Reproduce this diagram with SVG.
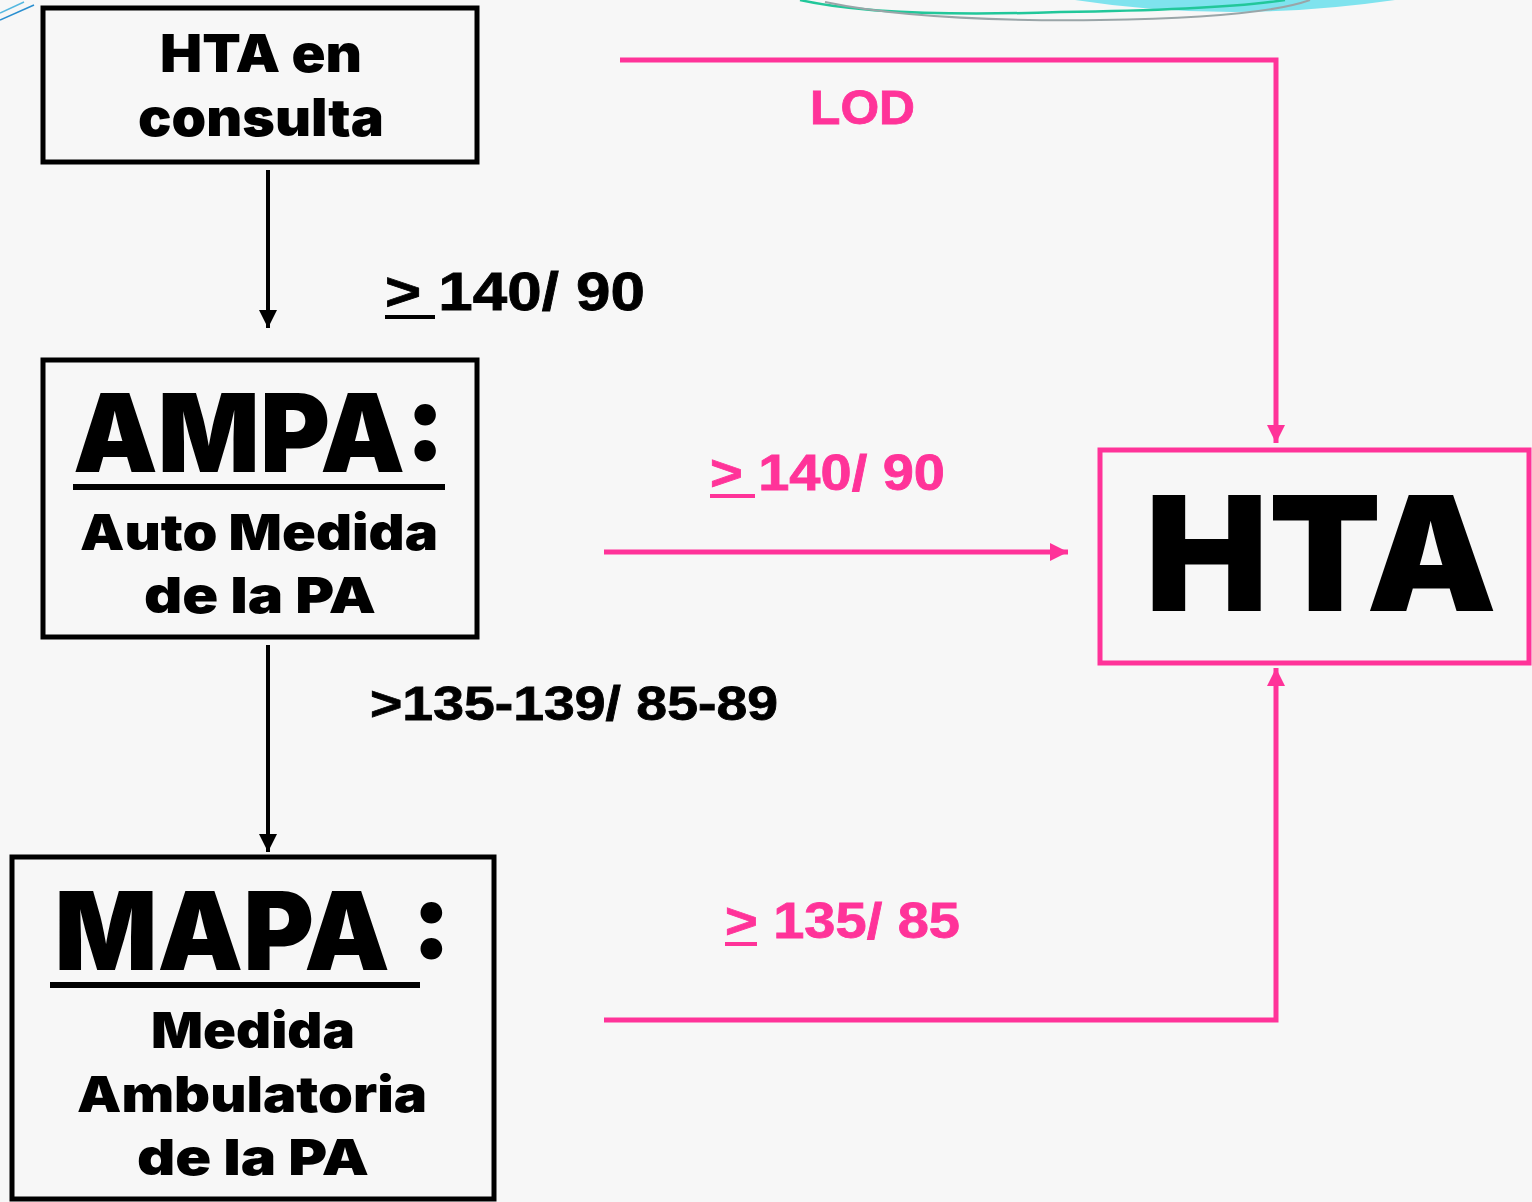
<svg xmlns="http://www.w3.org/2000/svg" width="1532" height="1202" viewBox="0 0 1532 1202">
<defs>
<style>
.bg{fill:#f7f7f7}
.box{fill:none;stroke:#000;stroke-width:5}
.pbox{fill:none;stroke:#ff3399;stroke-width:5}
.blk{font-family:Inter,"Liberation Sans",Arial,sans-serif;font-weight:900;fill:#000;text-anchor:middle}
.lbl{font-family:"Liberation Sans",Arial,sans-serif;font-weight:bold;stroke-width:0.8}
.k{fill:#000}
.p{fill:#ff3399}
text.k{stroke:#000}
text.p{stroke:#ff3399}
.cb{stroke:#000;stroke-width:4;fill:none}
.cp{stroke:#ff3399;stroke-width:5;fill:none}
</style>
<marker id="ab" viewBox="0 0 10 10" refX="10" refY="5" markerWidth="18" markerHeight="18" orient="auto" markerUnits="userSpaceOnUse">
<path d="M0,0 L10,5 L0,10 Z" fill="#000"/>
</marker>
<marker id="ap" viewBox="0 0 10 10" refX="10" refY="5" markerWidth="18" markerHeight="18" orient="auto" markerUnits="userSpaceOnUse">
<path d="M0,0 L10,5 L0,10 Z" fill="#ff3399"/>
</marker>
</defs>
<rect class="bg" x="0" y="0" width="1532" height="1202"/>
<g id="decor">
<path d="M1075,0 Q1230,24 1395,0 Z" fill="#7fe3ee"/>
<path d="M800,0 Q880,18 1060,12 Q1220,10 1285,0" fill="none" stroke="#22c79a" stroke-width="2.5"/>
<path d="M825,2 Q920,22 1100,20 Q1260,18 1310,0" fill="none" stroke="#9aa5a8" stroke-width="2"/>
<path d="M0,20 L34,5" stroke="#2a8fd0" stroke-width="1.5"/>
<path d="M0,13 L24,2" stroke="#55b8e0" stroke-width="1.5"/>
</g>
<g id="connectors">
<line class="cb" x1="268" y1="170" x2="268" y2="328" marker-end="url(#ab)"/>
<line class="cb" x1="268" y1="645" x2="268" y2="852" marker-end="url(#ab)"/>
<polyline class="cp" points="620,60 1276,60 1276,443" marker-end="url(#ap)"/>
<line class="cp" x1="604" y1="552" x2="1068" y2="552" marker-end="url(#ap)"/>
<polyline class="cp" points="604,1020 1276,1020 1276,668" marker-end="url(#ap)"/>
<text class="lbl k" x="385" y="310" font-size="54" textLength="260" lengthAdjust="spacingAndGlyphs">&gt; 140/ 90</text>
<rect class="k" x="385" y="315" width="50" height="4"/>
<text class="lbl k" x="370" y="720" font-size="48" textLength="408" lengthAdjust="spacingAndGlyphs">&gt;135-139/ 85-89</text>
<text class="lbl p" x="810" y="124" font-size="48" textLength="105" lengthAdjust="spacingAndGlyphs">LOD</text>
<text class="lbl p" x="710" y="490" font-size="50" textLength="235" lengthAdjust="spacingAndGlyphs">&gt; 140/ 90</text>
<rect class="p" x="710" y="494" width="45" height="4"/>
<text class="lbl p" x="725" y="938" font-size="50" textLength="235" lengthAdjust="spacingAndGlyphs">&gt; 135/ 85</text>
<rect class="p" x="725" y="942" width="32" height="4"/>
</g>
<g id="node-hta-consulta">
<rect class="box" x="43" y="8" width="434" height="154"/>
<text class="blk" x="261" y="72" font-size="52" textLength="202" lengthAdjust="spacingAndGlyphs">HTA en</text>
<text class="blk" x="261" y="136" font-size="52" textLength="246" lengthAdjust="spacingAndGlyphs">consulta</text>
</g>
<g id="node-ampa">
<rect class="box" x="43" y="360" width="434" height="277"/>
<text class="blk" x="259" y="472" font-size="108" textLength="372" lengthAdjust="spacingAndGlyphs">AMPA:</text>
<rect class="k" x="73" y="484" width="372" height="6"/>
<text class="blk" x="259" y="550" font-size="50" textLength="358" lengthAdjust="spacingAndGlyphs">Auto Medida</text>
<text class="blk" x="260" y="613" font-size="50" textLength="232" lengthAdjust="spacingAndGlyphs">de la PA</text>
</g>
<g id="node-mapa">
<rect class="box" x="12" y="857" width="482" height="342"/>
<text class="blk" x="253" y="970" font-size="108" textLength="397" lengthAdjust="spacingAndGlyphs">MAPA :</text>
<rect class="k" x="50" y="982" width="370" height="6"/>
<text class="blk" x="253" y="1048" font-size="50" textLength="204" lengthAdjust="spacingAndGlyphs">Medida</text>
<text class="blk" x="252" y="1112" font-size="50" textLength="350" lengthAdjust="spacingAndGlyphs">Ambulatoria</text>
<text class="blk" x="253" y="1175" font-size="50" textLength="232" lengthAdjust="spacingAndGlyphs">de la PA</text>
</g>
<g id="node-hta">
<rect class="pbox" x="1100" y="450" width="429" height="213"/>
<text class="blk" x="1321" y="611" font-size="160" textLength="352" lengthAdjust="spacingAndGlyphs">HTA</text>
</g>
</svg>
